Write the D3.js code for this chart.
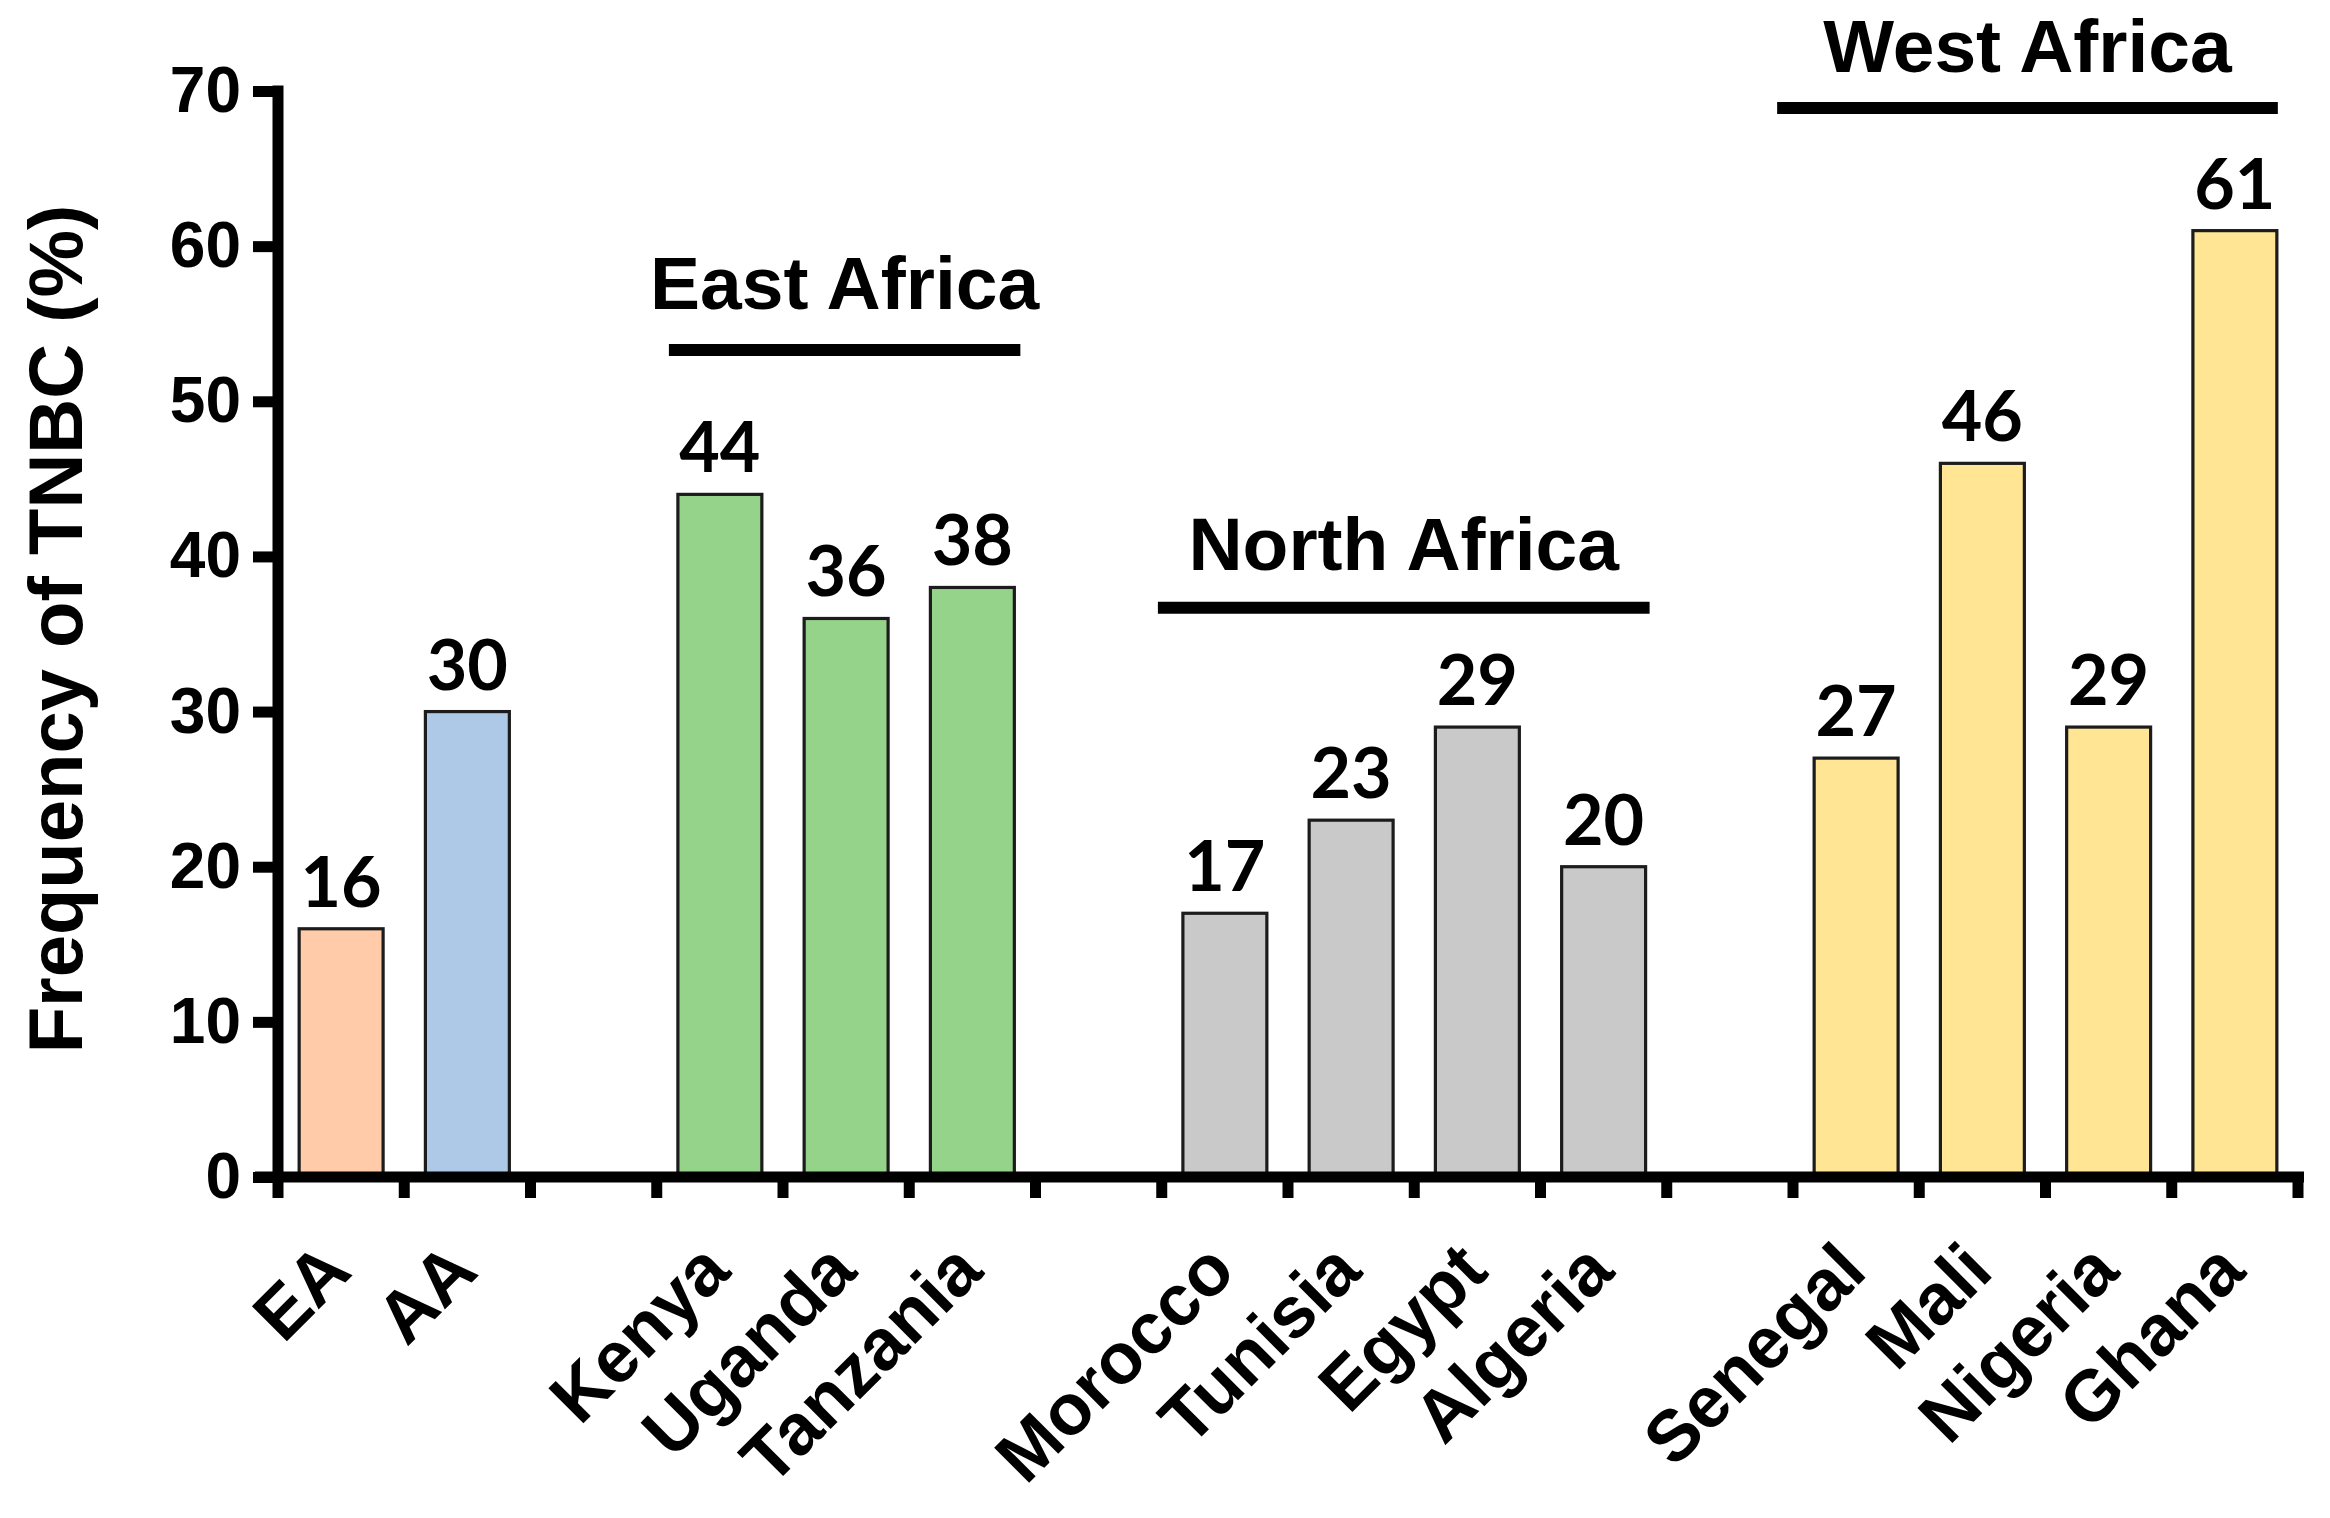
<!DOCTYPE html>
<html>
<head>
<meta charset="utf-8">
<script src="https://cdn.jsdelivr.net/npm/d3@7"></script>
<style>
  html, body { margin: 0; padding: 0; background: #fff; }
  svg { display: block; }
</style>
</head>
<body>
<svg id="chart" width="2330" height="1518"></svg>
<script>
// ---- data ----
const categories = ["EA", "AA", "_gap1", "Kenya", "Uganda", "Tanzania", "_gap2",
  "Morocco", "Tunisia", "Egypt", "Algeria", "_gap3", "Senegal", "Mali", "Nigeria", "Ghana"];
const values = [16, 30, null, 44, 36, 38, null, 17, 23, 29, 20, null, 27, 46, 29, 61];
const groupOfCategory = ["EA", "AA", null, "East", "East", "East", null,
  "North", "North", "North", "North", null, "West", "West", "West", "West"];
const groupKeys = ["EA", "AA", "East", "North", "West"];
const groupColors = ["#FFCBA9", "#AEC8E8", "#96D38A", "#C9C9C9", "#FFE594"];
const regionNames = ["East Africa", "North Africa", "West Africa"];
const regionKeys = ["East", "North", "West"];
const yTickValues = [0, 10, 20, 30, 40, 50, 60, 70];
const yTitle = "Frequency of TNBC (%)";

// ---- layout ----
const svg = d3.select("#chart");
const x0 = 278, x1 = 2298, yBase = 1177, yTop = 91;
const axisW = 11;
const regionLineLevel = { East: 53.3, North: 36.7, West: 68.9 }; // value units for the bracket lines
const regionLinePad = { East: [9, 6], North: [25, 4], West: [37, 1] };
const regionTextGap = { East: 41, North: 38, West: 36 };

const x = d3.scaleBand().domain(categories).range([x0, x1])
  .paddingInner(0.335).paddingOuter(0.1675);
const y = d3.scaleLinear().domain([0, 70]).range([yBase, yTop]);
const color = d3.scaleOrdinal().domain(groupKeys).range(groupColors);

const data = categories.map((c, i) => ({ c, v: values[i], g: groupOfCategory[i] }))
  .filter(d => d.v !== null);

// bars
svg.append("g").selectAll("rect").data(data).join("rect")
  .attr("x", d => x(d.c))
  .attr("y", d => y(d.v))
  .attr("width", x.bandwidth())
  .attr("height", d => y(0) - y(d.v))
  .attr("fill", d => color(d.g))
  .attr("stroke", "#1c1c1c")
  .attr("stroke-width", 3.2);

// value labels
svg.append("g").selectAll("text").data(data).join("text")
  .attr("x", d => x(d.c) + x.bandwidth() / 2)
  .attr("y", d => y(d.v) - 22)
  .attr("text-anchor", "middle")
  .attr("font-family", "Lato, 'Open Sans', sans-serif")
  .attr("font-weight", 700)
  .attr("font-size", 70)
  .attr("fill", "#000")
  .text(d => d.v);

// y axis
const yAxis = d3.axisLeft(y).tickValues(yTickValues).tickSize(25).tickSizeOuter(0).tickPadding(12);
const gy = svg.append("g").attr("transform", `translate(${x0},0)`).call(yAxis);
gy.select(".domain").remove();
gy.selectAll(".tick line").attr("stroke", "#000").attr("stroke-width", axisW);
gy.selectAll(".tick text")
  .attr("font-family", "'Liberation Sans', Arial, sans-serif")
  .attr("font-weight", 700).attr("font-size", 64).attr("fill", "#000");
svg.append("line")
  .attr("x1", x0).attr("x2", x0)
  .attr("y1", y(70) - axisW / 2).attr("y2", yBase + axisW / 2)
  .attr("stroke", "#000").attr("stroke-width", axisW);

// x axis (ticks at category boundaries)
const boundaries = d3.range(categories.length + 1).map(i => x0 + i * x.step());
svg.append("line")
  .attr("x1", x0 - 23).attr("x2", x1 + 6)
  .attr("y1", yBase).attr("y2", yBase)
  .attr("stroke", "#000").attr("stroke-width", axisW);
svg.append("g").selectAll("line").data(boundaries).join("line")
  .attr("x1", d => d).attr("x2", d => d)
  .attr("y1", yBase).attr("y2", yBase + 21)
  .attr("stroke", "#000").attr("stroke-width", axisW);

// category labels
svg.append("g").selectAll("text").data(data).join("text")
  .attr("transform", d => `translate(${x(d.c) + x.bandwidth() / 2 + 13},${yBase + 97}) rotate(-45)`)
  .attr("text-anchor", "end")
  .attr("font-family", "'Liberation Sans', Arial, sans-serif")
  .attr("font-weight", 700)
  .attr("font-size", 72)
  .attr("fill", "#000")
  .text(d => d.c);

// y title
svg.append("text")
  .attr("transform", `translate(82,${(y(0) + y(70)) / 2 - 5}) rotate(-90)`)
  .attr("text-anchor", "middle")
  .attr("font-family", "'Liberation Sans', Arial, sans-serif")
  .attr("font-weight", 700)
  .attr("font-size", 76)
  .attr("fill", "#000")
  .text(yTitle);

// region brackets
regionKeys.forEach((k, i) => {
  const members = categories.filter((c, j) => groupOfCategory[j] === k);
  const left = x(members[0]) - regionLinePad[k][0];
  const right = x(members[members.length - 1]) + x.bandwidth() + regionLinePad[k][1];
  const ly = y(regionLineLevel[k]);
  svg.append("line")
    .attr("x1", left).attr("x2", right).attr("y1", ly).attr("y2", ly)
    .attr("stroke", "#000").attr("stroke-width", 12);
  svg.append("text")
    .attr("x", (left + right) / 2)
    .attr("y", ly - regionTextGap[k])
    .attr("text-anchor", "middle")
    .attr("font-family", "'Liberation Sans', Arial, sans-serif")
    .attr("font-weight", 700)
    .attr("font-size", 75)
    .attr("fill", "#000")
    .text(regionNames[i]);
});
</script>
</body>
</html>
